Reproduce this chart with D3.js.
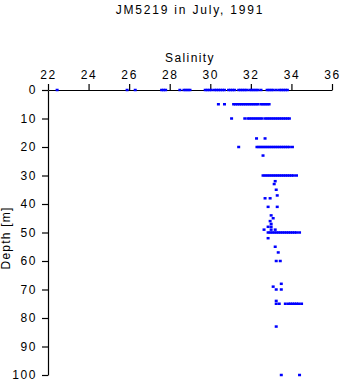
<!DOCTYPE html>
<html>
<head>
<meta charset="utf-8">
<script src="https://cdn.jsdelivr.net/npm/d3@7"></script>
<style>
  html, body { margin: 0; padding: 0; background: #fff; }
  svg { display: block; }
  text { font-family: "Liberation Sans", Arial, Helvetica, sans-serif; fill: #000; }
</style>
</head>
<body>
<svg id="chart" width="341" height="384"></svg>
<script>
const titleText = "JM5219 in July, 1991";
const xLabel = "Salinity";
const yLabel = "Depth [m]";
const salinityTicks = [22, 24, 26, 28, 30, 32, 34, 36];
const depthTicks = [0, 10, 20, 30, 40, 50, 60, 70, 80, 90, 100];

// Observations: depth (m) and salinity, grouped by depth level
const surface = [22.45, 25.9, 26.3, 27.6, 27.7, 27.8, 28.5, 28.7, 28.8, 28.9, 29.0, 29.75, 29.85, 29.95, 30.05, 30.2, 30.3, 30.4, 30.5, 30.6, 30.7, 30.9, 31.0, 31.1, 31.2, 31.4, 31.5, 31.6, 31.7, 31.8, 31.95, 32.05, 32.15, 32.25, 32.35, 32.5, 32.8, 32.9, 33.0, 33.1, 33.25, 33.4, 33.5, 33.6, 33.7, 33.8];
const depth5 = [30.4, 30.7, 31.15, 31.25, 31.35, 31.45, 31.55, 31.65, 31.75, 31.85, 31.95, 32.05, 32.15, 32.25, 32.35, 32.5, 32.6, 32.7, 32.8, 32.9];
const depth10 = [31.05, 31.7, 31.85, 31.95, 32.05, 32.15, 32.25, 32.35, 32.45, 32.55, 32.7, 32.8, 32.9, 33.0, 33.1, 33.2, 33.3, 33.4, 33.5, 33.6, 33.7, 33.8, 33.9];
const depth20 = [31.4, 32.3, 32.4, 32.5, 32.6, 32.7, 32.8, 32.9, 33.0, 33.1, 33.2, 33.3, 33.4, 33.5, 33.6, 33.7, 33.8, 33.9, 34.05];
const depth30 = [32.6, 32.7, 32.8, 32.9, 33.0, 33.1, 33.2, 33.3, 33.4, 33.5, 33.6, 33.7, 33.8, 33.9, 34.0, 34.1, 34.25];
const depth50 = [32.85, 32.95, 33.05, 33.15, 33.25, 33.35, 33.45, 33.55, 33.65, 33.75, 33.85, 33.95, 34.05, 34.15, 34.25, 34.4];
const depth75 = [33.25, 33.4, 33.7, 33.85, 33.95, 34.05, 34.15, 34.25, 34.35, 34.5];
const scatterDepth =    [17,    17,    23,   32,   33,    35,    37,   38,   38,    41,    41,   44,   45,   46,    47,   48,    48,   49,    49,   49,   52,    55,   57,    60,    60,    68,   69,   70,    70,   74,    83,    100,  100];
const scatterSalinity = [32.28, 32.7, 32.6, 33.2, 33.15, 33.25, 33.3, 32.7, 32.95, 32.85, 33.3, 33.0, 33.1, 32.95, 33.0, 32.85, 33.0, 32.65, 33.0, 33.2, 32.85, 33.2, 33.35, 33.25, 33.45, 33.5, 33.1, 33.25, 33.5, 33.25, 33.25, 33.5, 34.4];

const obsDepth = [];
const obsSalinity = [];
[[0, surface], [5, depth5], [10, depth10], [20, depth20], [30, depth30], [50, depth50], [75, depth75]]
  .forEach(([d, arr]) => arr.forEach(s => { obsDepth.push(d); obsSalinity.push(s); }));
scatterDepth.forEach((d, i) => { obsDepth.push(d); obsSalinity.push(scatterSalinity[i]); });

const svg = d3.select("#chart");
const mLeft = 48, mRight = 332, mTop = 90, mBottom = 375;

const x = d3.scaleLinear().domain([22, 36]).range([mLeft, mRight]);
const y = d3.scaleLinear().domain([0, 100]).range([mTop, mBottom]);

// Title
svg.append("text")
  .attr("x", 190).attr("y", 14)
  .attr("text-anchor", "middle")
  .style("font-size", "12px").style("letter-spacing", "1.8px")
  .text(titleText);

// X axis (top)
const xAxis = svg.append("g")
  .attr("transform", `translate(0,${mTop})`)
  .call(d3.axisTop(x).tickValues(salinityTicks).tickFormat(d3.format("d")).tickSize(6).tickSizeOuter(0));
xAxis.select(".domain").attr("stroke", "#000").attr("stroke-width", 1.2);
xAxis.selectAll(".tick line").attr("stroke", "#000").attr("stroke-width", 1.2);
xAxis.selectAll(".tick text")
  .attr("y", -11)
  .style("font-size", "12px").style("letter-spacing", "1.6px")
  .style("font-family", "Liberation Sans, Arial, sans-serif").attr("fill", "#000");

svg.append("text")
  .attr("x", 190).attr("y", 62)
  .attr("text-anchor", "middle")
  .style("font-size", "12px").style("letter-spacing", "1.4px")
  .text(xLabel);

// Y axis (left)
const yAxis = svg.append("g")
  .attr("transform", `translate(${mLeft},0)`)
  .call(d3.axisLeft(y).tickValues(depthTicks).tickFormat(d3.format("d")).tickSize(6).tickSizeOuter(0));
yAxis.select(".domain").attr("stroke", "#000").attr("stroke-width", 1.2);
yAxis.selectAll(".tick line").attr("stroke", "#000").attr("stroke-width", 1.2);
yAxis.selectAll(".tick text")
  .attr("x", -11)
  .style("font-size", "12px").style("letter-spacing", "1.6px")
  .style("font-family", "Liberation Sans, Arial, sans-serif").attr("fill", "#000");

svg.append("text")
  .attr("transform", `translate(10,238) rotate(-90)`)
  .attr("text-anchor", "middle")
  .style("font-size", "12px").style("letter-spacing", "1.2px")
  .text(yLabel);

// Points
const pts = obsDepth.map((d, i) => ({ d, s: obsSalinity[i] }));
svg.append("g").selectAll("rect")
  .data(pts)
  .join("rect")
  .attr("x", p => x(p.s) - 1.5)
  .attr("y", p => y(p.d) - 1.25)
  .attr("width", 3)
  .attr("height", 2.5)
  .attr("fill", "#0000ff");
</script>
</body>
</html>
